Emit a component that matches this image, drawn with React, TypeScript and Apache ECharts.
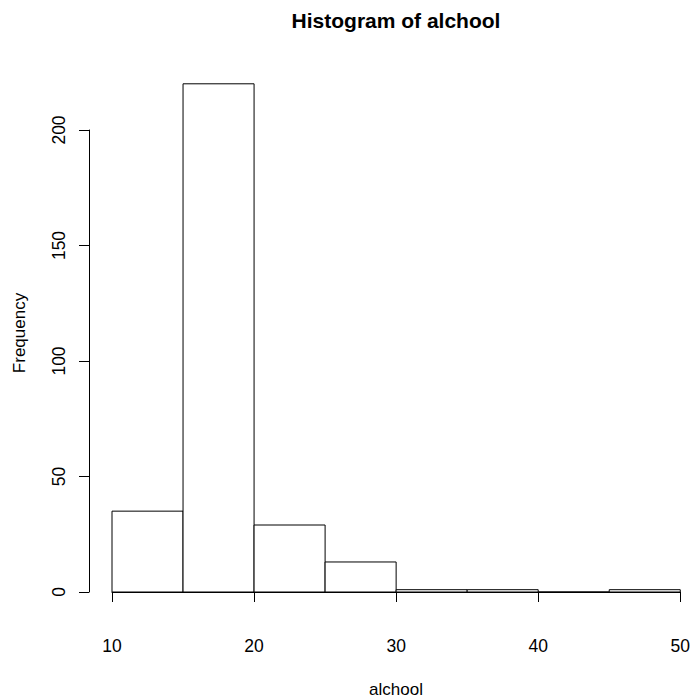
import React, { useEffect, useRef } from "react";
import * as echarts from "echarts";

const binStarts = [10, 15, 20, 25, 30, 35, 40, 45];
const binEnds = [15, 20, 25, 30, 35, 40, 45, 50];
const counts = [35, 220, 29, 13, 1, 1, 0, 1];

const xTicks = [10, 20, 30, 40, 50];
const yTicks = [0, 50, 100, 150, 200];

const titleText = "Histogram of alchool";
const xName = "alchool";
const yName = "Frequency";

const FONT = '"Liberation Sans", Arial, Helvetica, sans-serif';

export default function App() {
  const ref = useRef<HTMLDivElement | null>(null);

  useEffect(() => {
    if (!ref.current) return;
    const chart = echarts.init(ref.current, null, { renderer: "svg" });
    const data = binStarts.map((s, i) => [s, binEnds[i], counts[i]]);

    chart.setOption({
      animation: false,
      backgroundColor: "#ffffff",
      grid: { left: 112, right: 12, top: 130, bottom: 106, containLabel: false },
      xAxis: {
        type: "value",
        min: xTicks[0],
        max: xTicks[xTicks.length - 1],
        interval: 10,
        offset: 21,
        axisLine: { show: true, lineStyle: { color: "#000", width: 1 } },
        axisTick: { show: true, length: 10, lineStyle: { color: "#000", width: 1 } },
        axisLabel: { color: "#000", fontSize: 17.5, fontFamily: FONT, margin: 24 },
        splitLine: { show: false },
      },
      yAxis: {
        type: "value",
        min: yTicks[0],
        max: yTicks[yTicks.length - 1],
        interval: 50,
        offset: 23,
        axisLine: { show: true, lineStyle: { color: "#000", width: 1 } },
        axisTick: { show: true, length: 10, lineStyle: { color: "#000", width: 1 } },
        axisLabel: { color: "#000", fontSize: 17.5, fontFamily: FONT, rotate: 90, margin: 21 },
        splitLine: { show: false },
      },
      graphic: [
        {
          type: "text",
          x: 396,
          y: 20,
          style: {
            text: titleText,
            fill: "#000",
            font: `bold 21px ${FONT}`,
            textAlign: "center",
            textVerticalAlign: "middle",
          },
        },
        {
          type: "text",
          x: 396,
          y: 689,
          style: {
            text: xName,
            fill: "#000",
            font: `17px ${FONT}`,
            textAlign: "center",
            textVerticalAlign: "middle",
          },
        },
        {
          type: "text",
          x: 19,
          y: 333,
          rotation: Math.PI / 2,
          style: {
            text: yName,
            fill: "#000",
            font: `17px ${FONT}`,
            textAlign: "center",
            textVerticalAlign: "middle",
          },
        },
      ],
      series: [
        {
          type: "custom",
          clip: false,
          data,
          encode: { x: [0, 1], y: 2 },
          renderItem: (params: any, api: any) => {
            const p0 = api.coord([api.value(0), 0]);
            const p1 = api.coord([api.value(1), api.value(2)]);
            return {
              type: "rect",
              shape: {
                x: p0[0],
                y: p1[1],
                width: p1[0] - p0[0],
                height: p0[1] - p1[1],
              },
              style: { fill: "#ffffff", stroke: "#000000", lineWidth: 1 },
            };
          },
        },
      ],
    });

    return () => chart.dispose();
  }, []);

  return (
    <div
      ref={ref}
      style={{ position: "fixed", left: 0, top: 0, width: 693, height: 698 }}
    />
  );
}
